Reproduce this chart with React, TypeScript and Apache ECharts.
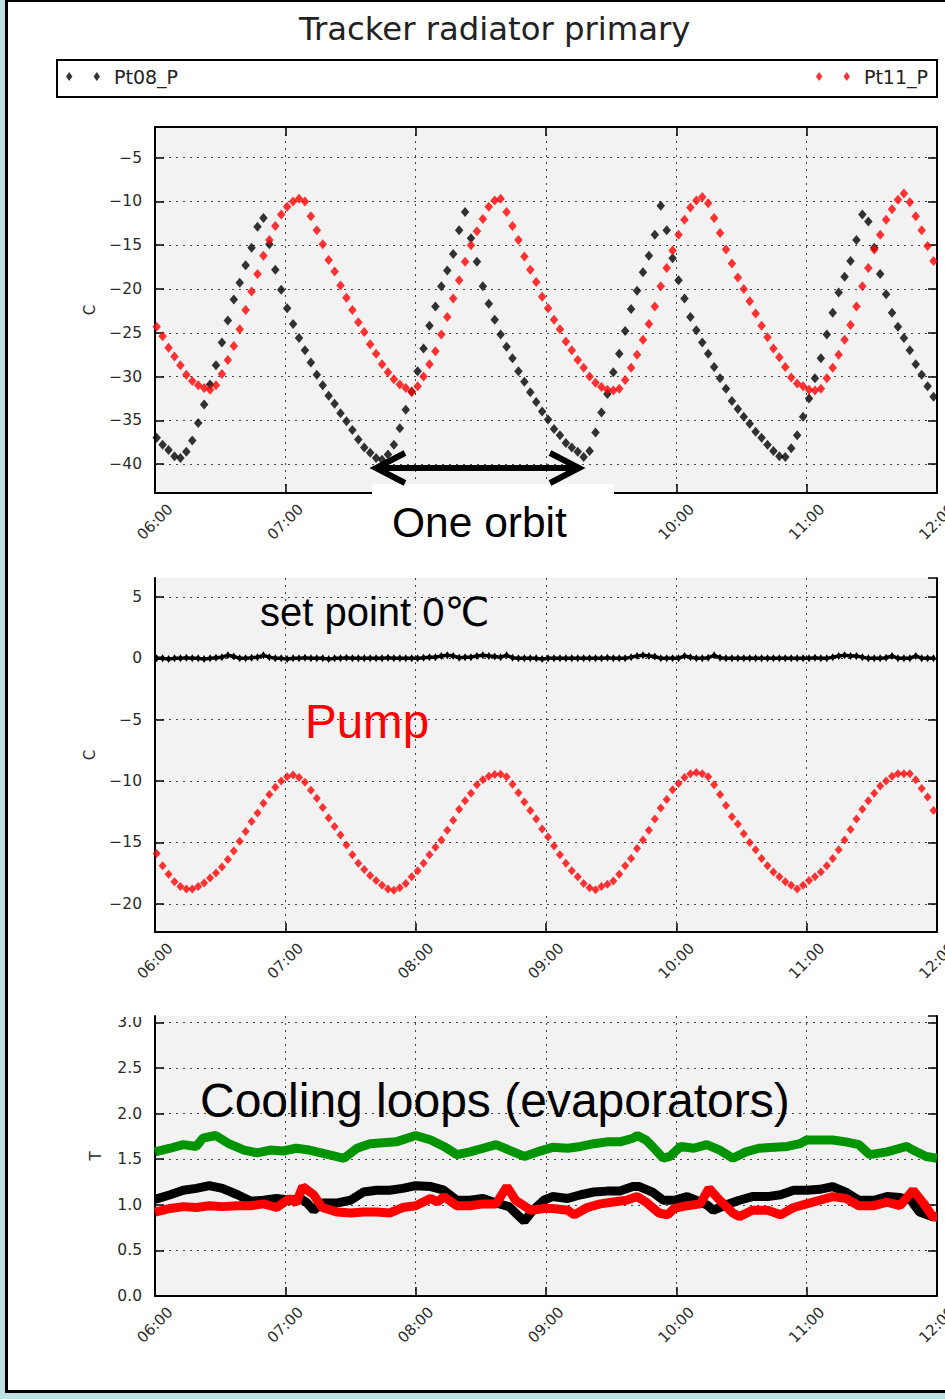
import React, { useEffect, useRef } from 'react';
import * as echarts from 'echarts';

// ---------- data ----------
// sample times: minutes after 06:00 = START_MIN + i * STEP_MIN
const START_MIN = 0.78;
const STEP_MIN = 2.73;
const xTickLabels = ['06:00', '07:00', '08:00', '09:00', '10:00', '11:00', '12:00'];

const pt08 = [
  -37.0, -37.8, -38.4, -39.1, -39.3, -38.6, -37.3, -35.3, -33.2, -30.9,
  -28.7, -26.1, -23.6, -21.2, -19.3, -17.3, -15.3, -12.9, -11.9, -14.9,
  -17.8, -20.1, -22.2, -24.0, -25.6, -27.0, -28.4, -29.8, -31.0, -32.2,
  -33.1, -34.2, -35.1, -36.1, -37.2, -38.1, -38.7, -39.3, -39.5, -38.9,
  -37.8, -35.9, -33.8, -31.7, -29.4, -26.8, -24.2, -22.0, -19.7, -17.9,
  -16.0, -13.3, -11.2, -14.2, -16.9, -19.7, -21.7, -23.5, -25.2, -26.6,
  -27.9, -29.4, -30.6, -31.8, -32.9, -34.0, -34.9, -36.0, -36.7, -37.6,
  -38.1, -38.6, -39.2, -38.5, -36.4, -34.1, -32.0, -29.5, -27.4, -24.8,
  -22.3, -20.2, -18.1, -16.2, -13.8, -10.5, -13.3, -16.5, -19.0, -21.1,
  -23.2, -24.7, -26.1, -27.4, -28.9, -30.2, -31.4, -32.8, -33.7, -34.6,
  -35.4, -36.3, -37.0, -37.8, -38.5, -39.1, -39.2, -38.2, -36.7, -34.6,
  -32.5, -30.2, -27.9, -25.2, -22.7, -20.4, -18.6, -16.8, -14.4, -11.5,
  -12.3, -15.3, -18.3, -20.6, -22.7, -24.3, -25.6, -27.0, -28.6, -29.8,
  -31.1, -32.3,
];

const pt11 = [
  -24.3, -25.4, -26.7, -27.7, -28.7, -29.8, -30.5, -31.0, -31.3, -31.5,
  -31.0, -29.7, -28.1, -26.5, -24.6, -22.4, -20.3, -18.3, -16.2, -14.4,
  -12.8, -11.5, -10.6, -10.0, -9.7, -10.0, -11.7, -13.3, -14.9, -16.7,
  -18.0, -19.6, -21.0, -22.4, -23.8, -24.9, -26.3, -27.4, -28.6, -29.5,
  -30.3, -30.9, -31.3, -31.8, -31.1, -30.0, -28.6, -27.1, -25.2, -23.2,
  -21.1, -19.0, -16.9, -15.0, -13.4, -12.0, -10.6, -9.9, -9.7, -11.2,
  -12.8, -14.4, -16.3, -17.8, -19.2, -20.9, -22.2, -23.5, -24.6, -26.0,
  -27.0, -28.1, -29.0, -30.0, -30.7, -31.2, -31.5, -31.6, -31.4, -30.4,
  -29.0, -27.5, -25.8, -24.0, -22.0, -19.7, -17.6, -15.6, -13.8, -12.1,
  -10.7, -9.9, -9.5, -10.2, -11.9, -13.6, -15.5, -17.1, -18.7, -20.0,
  -21.4, -22.8, -24.2, -25.5, -26.8, -27.8, -28.9, -30.1, -30.8, -31.1,
  -31.5, -31.6, -31.4, -30.2, -29.0, -27.5, -25.8, -24.1, -22.0, -19.7,
  -17.6, -15.5, -13.8, -12.1, -10.9, -9.8, -9.1, -10.1, -11.7, -13.3,
  -15.1, -16.8,
];

const pumpSetPoint = [
  0, 0, -0.05, 0, 0, 0.05, 0, 0, -0.05, 0, 0.05, 0.1,
  0.25, 0.15, 0, 0, 0.05, 0.1, 0.25, 0.1, 0, 0, -0.05, 0,
  0, 0.05, 0, 0, 0, -0.05, 0, 0, 0.05, 0, 0, 0,
  0, 0, 0, 0.05, 0, 0, 0, 0, 0, 0.05, 0.1, 0.1,
  0.2, 0.25, 0.2, 0.05, 0.1, 0.1, 0.2, 0.25, 0.2, 0.15, 0.1, 0.25,
  0.05, 0, 0, 0, 0, -0.05, 0, 0, 0, 0, 0, 0,
  0, 0, 0, 0, 0.05, 0, 0, 0, 0.1, 0.2, 0.25, 0.2,
  0.15, 0, 0, 0, 0, 0.2, 0.1, 0, 0, 0.05, 0.25, 0.05,
  0, 0, 0, 0, 0, 0, 0, 0, 0, 0, 0, 0,
  0, 0, 0, 0.05, 0, 0, 0.1, 0.2, 0.25, 0.2, 0.2, 0.1,
  0, 0, 0, 0.05, 0.2, 0, 0, 0, 0.2, 0, 0, 0,
];

const pumpTemp = [
  -15.9, -16.9, -17.6, -18.2, -18.6, -18.8, -18.8, -18.6, -18.3, -17.9,
  -17.5, -17.0, -16.4, -15.7, -14.9, -14.1, -13.3, -12.6, -11.8, -11.1,
  -10.5, -10.0, -9.65, -9.5, -9.7, -10.1, -10.75, -11.4, -12.15, -13.0,
  -13.7, -14.4, -15.2, -16.0, -16.7, -17.2, -17.7, -18.1, -18.5, -18.8,
  -18.9, -18.7, -18.35, -17.8, -17.3, -16.7, -16.0, -15.4, -14.8, -14.0,
  -13.2, -12.3, -11.6, -11.0, -10.3, -9.9, -9.6, -9.46, -9.44, -9.65,
  -10.25, -10.96, -11.7, -12.4, -13.1, -13.9, -14.55, -15.3, -16.0, -16.7,
  -17.3, -17.8, -18.35, -18.7, -18.85, -18.6, -18.4, -18.14, -17.6, -16.9,
  -16.3, -15.5, -14.8, -14.0, -13.1, -12.2, -11.5, -10.7, -10.2, -9.7,
  -9.4, -9.3, -9.4, -9.65, -10.3, -11.1, -12.0, -12.9, -13.5, -14.3,
  -15.0, -15.6, -16.3, -16.9, -17.4, -17.8, -18.2, -18.5, -18.8, -18.5,
  -18.1, -17.8, -17.4, -16.9, -16.3, -15.6, -14.8, -13.95, -13.1, -12.3,
  -11.6, -11.0, -10.4, -10.0, -9.6, -9.4, -9.4, -9.4, -9.9, -10.6,
  -11.3, -12.4,
];

// cooling loops: [minutes after 06:00, value]
const loopGreen: [number, number][] = [
  [0, 1.58], [7, 1.62], [13, 1.66], [19, 1.64], [22, 1.73], [28, 1.76], [34, 1.67], [41, 1.6],
  [47, 1.57], [53, 1.6], [59, 1.59], [65, 1.62], [71, 1.6], [78, 1.56], [87, 1.51], [93, 1.62],
  [99, 1.67], [111, 1.69], [120, 1.76], [127, 1.71], [133, 1.64], [139, 1.55], [145, 1.58],
  [151, 1.62], [157, 1.66], [163, 1.6], [170, 1.53], [176, 1.58], [183, 1.63], [190, 1.62],
  [196, 1.64], [202, 1.67], [208, 1.69], [214, 1.69], [220, 1.73], [222, 1.76], [226, 1.71],
  [229, 1.64], [234, 1.51], [237, 1.53], [242, 1.64], [248, 1.62], [254, 1.66], [260, 1.6],
  [266, 1.51], [272, 1.58], [278, 1.62], [291, 1.64], [297, 1.67], [300, 1.71], [312, 1.71],
  [318, 1.69], [324, 1.66], [329, 1.55], [337, 1.58], [343, 1.62], [346, 1.64], [349, 1.6],
  [355, 1.53], [360, 1.51],
];
const loopBlack: [number, number][] = [
  [0, 1.06], [7, 1.11], [13, 1.16], [19, 1.18], [25, 1.21], [31, 1.18], [38, 1.11], [44, 1.04],
  [50, 1.05], [56, 1.07], [62, 1.05], [67, 1.07], [70, 1.02], [73, 0.94], [77, 1.02], [84, 1.02],
  [90, 1.05], [96, 1.14], [102, 1.16], [108, 1.16], [114, 1.18], [120, 1.21], [127, 1.2],
  [133, 1.16], [139, 1.05], [145, 1.05], [151, 1.07], [157, 1.02], [163, 0.98], [166, 0.91],
  [170, 0.82], [174, 0.94], [179, 1.05], [183, 1.09], [190, 1.07], [196, 1.11], [202, 1.14],
  [208, 1.15], [214, 1.15], [220, 1.2], [223, 1.2], [229, 1.14], [234, 1.05], [239, 1.05],
  [245, 1.09], [249, 1.05], [254, 1.0], [257, 0.94], [263, 1.0], [269, 1.05], [275, 1.09],
  [282, 1.09], [288, 1.11], [294, 1.16], [300, 1.16], [306, 1.17], [312, 1.2], [318, 1.14],
  [324, 1.05], [331, 1.05], [337, 1.09], [343, 1.08], [348, 1.05], [352, 0.92], [358, 0.87],
  [360, 0.87],
];
const loopRed: [number, number][] = [
  [0, 0.92], [7, 0.96], [13, 0.98], [19, 0.97], [25, 0.99], [31, 0.98], [38, 0.99], [44, 0.99],
  [50, 1.01], [56, 0.97], [62, 1.07], [65, 1.02], [68, 1.2], [73, 1.11], [77, 0.97], [84, 0.92],
  [90, 0.91], [96, 0.92], [102, 0.92], [108, 0.91], [114, 0.97], [120, 0.99], [127, 1.07],
  [130, 1.03], [133, 1.09], [139, 0.99], [145, 0.99], [151, 1.01], [157, 1.01], [162, 1.2],
  [166, 1.05], [173, 0.94], [179, 0.96], [183, 0.96], [190, 0.94], [193, 0.89], [199, 0.97],
  [205, 1.01], [211, 1.03], [217, 1.05], [222, 1.09], [226, 1.03], [232, 0.91], [236, 0.89],
  [239, 0.96], [245, 0.99], [251, 1.01], [255, 1.18], [260, 1.05], [266, 0.91], [269, 0.87],
  [275, 0.94], [282, 0.94], [288, 0.89], [294, 0.97], [300, 1.01], [306, 1.05], [312, 1.09],
  [318, 1.07], [324, 0.99], [331, 0.99], [337, 1.03], [343, 0.99], [349, 1.16], [354, 1.01],
  [358, 0.87], [360, 0.87],
];

// ---------- styling ----------
const FONT = '"DejaVu Sans", sans-serif';
const ANN = '"Liberation Sans", Arial, "DejaVu Sans", sans-serif';
const BLUE = '#bde0e3';
const GRIDLINE = { type: [2, 5] as any, color: '#444', width: 1 };
const LABEL_COLOR = '#2b2b2b';

const sampled = (vals: number[]) => vals.map((v, i) => [START_MIN + i * STEP_MIN, v]);

const fmtTime = (hide: number[]) => (v: number) => {
  const k = Math.round(v / 60);
  return hide.includes(k) ? '' : xTickLabels[k] ?? '';
};
const fmtMinus = (v: number) => (v < 0 ? '\u2212' + String(Math.abs(v)) : String(v));
const fmtOne = (v: number) => v.toFixed(1);

function xBottom(gridIndex: number, hide: number[]) {
  return {
    type: 'value', gridIndex, min: 0, max: 360, interval: 60, position: 'bottom',
    axisLine: { show: true, onZero: false, lineStyle: { color: '#000', width: 2 } },
    axisTick: { show: true, inside: true, length: 9, lineStyle: { color: '#000', width: 1.5 } },
    axisLabel: {
      show: true, rotate: 45, align: 'center', verticalAlign: 'middle', margin: 29,
      fontFamily: FONT, fontSize: 15, color: LABEL_COLOR, formatter: fmtTime(hide),
    },
    splitLine: { show: true, lineStyle: GRIDLINE },
  };
}
function xTop(gridIndex: number) {
  return {
    type: 'value', gridIndex, min: 0, max: 360, interval: 60, position: 'top',
    axisLine: { show: true, onZero: false, lineStyle: { color: '#000', width: 2 } },
    axisTick: { show: true, inside: true, length: 9, lineStyle: { color: '#000', width: 1.5 } },
    axisLabel: { show: false }, splitLine: { show: false },
  };
}
function yLeft(gridIndex: number, min: number, max: number, step: number, name: string,
  nameGap: number, fmt: (v: number) => string, showMin: boolean) {
  return {
    type: 'value', gridIndex, min, max, minInterval: step, maxInterval: step, splitNumber: 8,
    position: 'left', name, nameLocation: 'middle', nameGap, nameRotate: 90,
    nameTextStyle: { fontFamily: FONT, fontSize: 15, color: LABEL_COLOR },
    axisLine: { show: true, onZero: false, lineStyle: { color: '#000', width: 2 } },
    axisTick: { show: true, inside: true, length: 9, lineStyle: { color: '#000', width: 1.5 } },
    axisLabel: {
      show: true, margin: 13, fontFamily: FONT, fontSize: 15.5, color: LABEL_COLOR,
      formatter: fmt, showMinLabel: showMin, showMaxLabel: false,
    },
    splitLine: { show: true, showMinLine: false, showMaxLine: false, lineStyle: GRIDLINE },
  };
}
function yRight(gridIndex: number, min: number, max: number, step: number) {
  return {
    type: 'value', gridIndex, min, max, minInterval: step, maxInterval: step, splitNumber: 8,
    position: 'right',
    axisLine: { show: true, onZero: false, lineStyle: { color: '#000', width: 2 } },
    axisTick: { show: true, inside: true, length: 9, lineStyle: { color: '#000', width: 1.5 } },
    axisLabel: { show: false }, splitLine: { show: false },
  };
}

const LEGEND_ICON = 'path://M0,4.5L3.2,0L6.4,4.5L3.2,9ZM27.6,4.5L30.8,0L34,4.5L30.8,9Z';
const legendBase = {
  orient: 'horizontal', top: 67, padding: 0, icon: LEGEND_ICON, itemWidth: 34, itemHeight: 9,
  selectedMode: false,
  textStyle: { fontFamily: FONT, fontSize: 19, color: '#222', padding: [0, 0, 0, 9] },
};

function buildOption() {
  const gridBase = { show: true, backgroundColor: '#f2f2f2', borderWidth: 0, outerBoundsMode: 'none', containLabel: false };
  return {
    animation: false,
    backgroundColor: '#ffffff',
    title: {
      text: 'Tracker radiator primary', left: 299, top: 13, padding: 0,
      textStyle: { fontFamily: FONT, fontSize: 32.3, fontWeight: 'normal', color: '#222' },
    },
    legend: [
      { ...legendBase, left: 66, data: ['Pt08_P'] },
      { ...legendBase, right: 17, data: ['Pt11_P'] },
    ],
    grid: [
      { ...gridBase, left: 155, top: 127, width: 782, height: 366 },
      { ...gridBase, left: 155, top: 578, width: 782, height: 354 },
      { ...gridBase, left: 155, top: 1016, width: 782, height: 280 },
    ],
    xAxis: [xBottom(0, [2, 3]), xTop(0), xBottom(1, []), xBottom(2, [])],
    yAxis: [
      yLeft(0, -43.3, -1.5, 5, 'C', 58, fmtMinus, false), yRight(0, -43.3, -1.5, 5),
      yLeft(1, -22.3, 6.55, 5, 'C', 58, fmtMinus, false), yRight(1, -22.3, 6.55, 5),
      yLeft(2, 0, 3.07, 0.5, 'T', 52, fmtOne, true), yRight(2, 0, 3.07, 0.5),
    ],
    series: [
      {
        name: 'Pt08_P', type: 'scatter', xAxisIndex: 0, yAxisIndex: 0, data: sampled(pt08),
        symbol: 'diamond', symbolSize: [8.5, 10], itemStyle: { color: '#000000' },
      },
      {
        name: 'Pt11_P', type: 'scatter', xAxisIndex: 0, yAxisIndex: 0, data: sampled(pt11),
        symbol: 'diamond', symbolSize: [8.5, 10], itemStyle: { color: '#ff0000' },
      },
      {
        name: 'Pump set point', type: 'line', xAxisIndex: 2, yAxisIndex: 2, data: sampled(pumpSetPoint),
        symbol: 'diamond', symbolSize: [5, 8], showAllSymbol: true,
        itemStyle: { color: '#000000' }, lineStyle: { color: '#000000', width: 3.5 },
      },
      {
        name: 'Pump', type: 'scatter', xAxisIndex: 2, yAxisIndex: 2, data: sampled(pumpTemp),
        symbol: 'diamond', symbolSize: [8, 9], itemStyle: { color: '#ff0000' },
      },
      {
        name: 'Loop green', type: 'line', xAxisIndex: 3, yAxisIndex: 4, data: loopGreen,
        symbol: 'none', lineStyle: { color: '#009400', width: 9 },
      },
      {
        name: 'Loop black', type: 'line', xAxisIndex: 3, yAxisIndex: 4, data: loopBlack,
        symbol: 'none', lineStyle: { color: '#000000', width: 9 },
      },
      {
        name: 'Loop red', type: 'line', xAxisIndex: 3, yAxisIndex: 4, data: loopRed,
        symbol: 'none', lineStyle: { color: '#ff0000', width: 9 },
      },
    ],
    graphic: {
      elements: [
        { type: 'rect', z: 1, shape: { x: 57, y: 60, width: 880, height: 37 }, style: { fill: '#ffffff', stroke: '#000000', lineWidth: 2 } },
        { type: 'rect', z: 100, shape: { x: 372, y: 484, width: 242, height: 94 }, style: { fill: '#ffffff' } },
        { type: 'rect', z: 100, shape: { x: 60, y: 985, width: 94, height: 32 }, style: { fill: '#ffffff' } },
        { type: 'line', z: 101, shape: { x1: 377, y1: 468, x2: 578, y2: 468 }, style: { stroke: '#000000', lineWidth: 6 } },
        { type: 'polyline', z: 101, shape: { points: [[405, 453], [376, 468], [405, 483]] }, style: { stroke: '#000000', lineWidth: 6, fill: null, lineJoin: 'miter' } },
        { type: 'polyline', z: 101, shape: { points: [[550, 453], [579, 468], [550, 483]] }, style: { stroke: '#000000', lineWidth: 6, fill: null, lineJoin: 'miter' } },
        { type: 'text', z: 102, x: 392, y: 522, style: { text: 'One orbit', fontSize: 42.5, fontFamily: ANN, fill: '#000000', verticalAlign: 'middle', textVerticalAlign: 'middle' } },
        { type: 'text', z: 102, x: 260, y: 612, style: { text: 'set point 0\u2103', fontSize: 40, fontFamily: ANN, fill: '#000000', verticalAlign: 'middle', textVerticalAlign: 'middle' } },
        { type: 'text', z: 102, x: 305, y: 721, style: { text: 'Pump', fontSize: 47.5, fontFamily: ANN, fill: '#ff0000', verticalAlign: 'middle', textVerticalAlign: 'middle' } },
        { type: 'text', z: 102, x: 200, y: 1100, style: { text: 'Cooling loops (evaporators)', fontSize: 48, fontFamily: ANN, fill: '#000000', verticalAlign: 'middle', textVerticalAlign: 'middle' } },
        // page frame
        { type: 'rect', z: 110, shape: { x: 0, y: 0, width: 5, height: 1399 }, style: { fill: BLUE } },
        { type: 'rect', z: 110, shape: { x: 0, y: 1393, width: 945, height: 6 }, style: { fill: BLUE } },
        { type: 'rect', z: 110, shape: { x: 5, y: 0, width: 3, height: 1393 }, style: { fill: '#000000' } },
        { type: 'rect', z: 110, shape: { x: 5, y: 1390, width: 940, height: 3 }, style: { fill: '#000000' } },
        { type: 'rect', z: 110, shape: { x: 5, y: 0, width: 940, height: 2 }, style: { fill: '#000000' } },
      ],
    },
  };
}

export default function App() {
  const ref = useRef<HTMLDivElement | null>(null);
  useEffect(() => {
    if (!ref.current) return;
    const chart = echarts.init(ref.current, null, { renderer: 'svg' });
    chart.setOption(buildOption() as any);
    return () => chart.dispose();
  }, []);
  return (
    <div
      ref={ref}
      style={{ position: 'fixed', left: 0, top: 0, width: 945, height: 1399, overflow: 'hidden', background: '#fff' }}
    />
  );
}
